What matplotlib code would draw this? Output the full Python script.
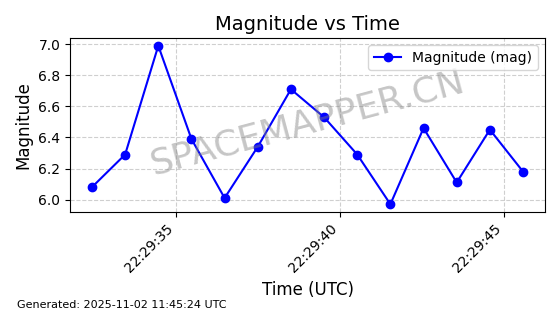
import matplotlib
matplotlib.use("Agg")
import matplotlib.pyplot as plt
import matplotlib.dates as mdates
from datetime import datetime, timedelta

start = datetime(2025, 11, 2, 22, 29, 32, 440000)
step_ms = 1011
times = [start + timedelta(milliseconds=k * step_ms) for k in range(14)]
mags = [6.08, 6.29, 6.99, 6.39, 6.01, 6.34, 6.71, 6.53, 6.29, 5.97, 6.46, 6.11, 6.45, 6.18]

fig = plt.figure(figsize=(5.6, 3.14), dpi=100)
ax = fig.add_axes([70/560, 1-212/314, 475/560, 174/314])
ax.plot(times, mags, color='blue', marker='o', markersize=6, linewidth=1.5, label='Magnitude (mag)')
ax.set_title('Magnitude vs Time', fontsize=14)
ax.set_xlabel('Time (UTC)', fontsize=12)
ax.set_ylabel('Magnitude', fontsize=12)
ax.grid(True, linestyle='--', alpha=0.6)
ax.xaxis.set_major_locator(mdates.SecondLocator(bysecond=[35, 40, 45]))
ax.xaxis.set_major_formatter(mdates.DateFormatter('%H:%M:%S'))
plt.setp(ax.get_xticklabels(), rotation=45, ha='right')
ax.set_yticks([6.0, 6.2, 6.4, 6.6, 6.8, 7.0])
ax.set_ylim(5.92, 7.04)
ax.set_xlim(start - timedelta(milliseconds=670), times[-1] + timedelta(milliseconds=670))
ax.legend(loc='upper right')
ax.text(0.5, 0.51, 'SPACEMAPPER.CN', transform=ax.transAxes, fontsize=26, color='gray',
        alpha=0.45, rotation=15, ha='center', va='center')
fig.text(17/560, 1-305/314, 'Generated: 2025-11-02 11:45:24 UTC', fontsize=8, va='center')
fig.savefig('out.png', dpi=100)
